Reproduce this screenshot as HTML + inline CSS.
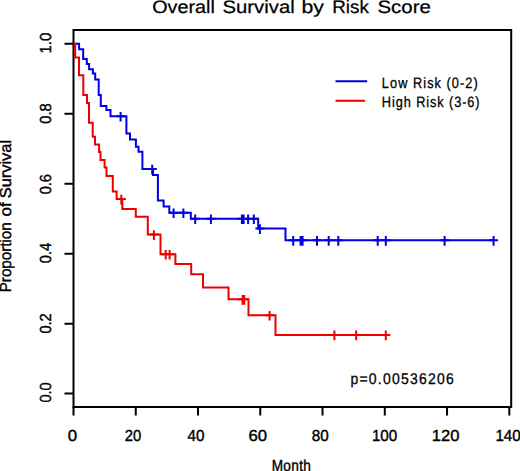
<!DOCTYPE html>
<html><head><meta charset="utf-8"><style>
html,body{margin:0;padding:0;background:#fff;width:520px;height:471px;overflow:hidden}
svg{display:block}
text{font-family:"Liberation Sans",sans-serif;fill:#000;stroke:#000;text-rendering:geometricPrecision}
</style></head><body>
<svg width="520" height="471" viewBox="0 0 520 471">
<rect width="520" height="471" fill="#fff"/>
<text transform="translate(152.18,13.3) scale(1.0,1)" font-size="18" stroke-width="0.25" textLength="62.63" lengthAdjust="spacingAndGlyphs">Overall</text><text transform="translate(222.50,13.3) scale(1.0,1)" font-size="18" stroke-width="0.25" textLength="72.25" lengthAdjust="spacingAndGlyphs">Survival</text><text transform="translate(301.46,13.3) scale(1.0,1)" font-size="18" stroke-width="0.25" textLength="22.49" lengthAdjust="spacingAndGlyphs">by</text><text transform="translate(332.16,13.3) scale(1.0,1)" font-size="18" stroke-width="0.25" textLength="36.66" lengthAdjust="spacingAndGlyphs">Risk</text><text transform="translate(377.49,13.3) scale(1.0,1)" font-size="18" stroke-width="0.25" textLength="53.35" lengthAdjust="spacingAndGlyphs">Score</text>
<path d="M73.5,30H511.2V407.1H73.5Z" fill="none" stroke="#000" stroke-width="2"/>
<path d="M73.50,407V415.5M135.76,407V415.5M198.01,407V415.5M260.27,407V415.5M322.53,407V415.5M384.79,407V415.5M447.04,407V415.5M509.30,407V415.5M64.5,393.60H73.5M64.5,323.65H73.5M64.5,253.70H73.5M64.5,183.75H73.5M64.5,113.80H73.5M64.5,43.85H73.5" fill="none" stroke="#000" stroke-width="2"/>
<text transform="translate(67.7,441.4) scale(1.05,1)" font-size="16" stroke-width="0.4">0</text><text transform="translate(124.81,441.4) scale(1.0,1)" font-size="16" stroke-width="0.4" textLength="16.45" lengthAdjust="spacingAndGlyphs">20</text><text transform="translate(187.50,441.4) scale(1.0,1)" font-size="16" stroke-width="0.4" textLength="16.92" lengthAdjust="spacingAndGlyphs">40</text><text transform="translate(248.44,441.4) scale(1.0,1)" font-size="16" stroke-width="0.4" textLength="18.59" lengthAdjust="spacingAndGlyphs">60</text><text transform="translate(311.72,441.4) scale(1.0,1)" font-size="16" stroke-width="0.4" textLength="16.90" lengthAdjust="spacingAndGlyphs">80</text><text transform="translate(371.91,441.4) scale(1.0,1)" font-size="16" stroke-width="0.4" textLength="25.35" lengthAdjust="spacingAndGlyphs">100</text><text transform="translate(431.86,441.4) scale(1.0,1)" font-size="16" stroke-width="0.4" textLength="27.58" lengthAdjust="spacingAndGlyphs">120</text><text transform="translate(495.41,441.4) scale(1.0,1)" font-size="16" stroke-width="0.4" textLength="25.35" lengthAdjust="spacingAndGlyphs">140</text>
<text transform="translate(51,402.45) rotate(-90) scale(1.0,1)" font-size="16" stroke-width="0.4" textLength="20.05" lengthAdjust="spacingAndGlyphs">0.0</text><text transform="translate(51,333.55) rotate(-90) scale(1.0,1)" font-size="16" stroke-width="0.4" textLength="20.30" lengthAdjust="spacingAndGlyphs">0.2</text><text transform="translate(51,263.15) rotate(-90) scale(1.0,1)" font-size="16" stroke-width="0.4" textLength="20.30" lengthAdjust="spacingAndGlyphs">0.4</text><text transform="translate(51,194.35) rotate(-90) scale(1.0,1)" font-size="16" stroke-width="0.4" textLength="20.30" lengthAdjust="spacingAndGlyphs">0.6</text><text transform="translate(51,123.65) rotate(-90) scale(1.0,1)" font-size="16" stroke-width="0.4" textLength="20.30" lengthAdjust="spacingAndGlyphs">0.8</text><text transform="translate(51,53.52) rotate(-90) scale(1.0,1)" font-size="16" stroke-width="0.4" textLength="20.80" lengthAdjust="spacingAndGlyphs">1.0</text>
<text transform="translate(271.63,470.8) scale(0.85,1)" font-size="16" stroke-width="0.4" textLength="46.13" lengthAdjust="spacing">Month</text>
<text transform="translate(11.4,292.24) rotate(-90) scale(1.0,1)" font-size="16" stroke-width="0.4" textLength="69.88" lengthAdjust="spacingAndGlyphs">Proportion</text><text transform="translate(11.4,216.57) rotate(-90) scale(1.0,1)" font-size="16" stroke-width="0.4" textLength="14.35" lengthAdjust="spacingAndGlyphs">of</text><text transform="translate(11.4,198.25) rotate(-90) scale(1.0,1)" font-size="16" stroke-width="0.4" textLength="58.30" lengthAdjust="spacingAndGlyphs">Survival</text>
<path d="M73.5,43.85H79.1V49.2H83.2V58.9H86.8V63.9H89.1V69.3H92.9V73.5H95.2V79.4H98.7V95.0H100.8V106.0H106.4V110.0H110.5V116.2H126.4V133.6H130.0V139.6H135.9V146.8H138.5V151.8H142.4V169.0H153.0V175.0H157.9V200.4H163.6V206.6H169.3V212.7H190.8V218.7H258.2V228.5H285.5V240.3H493.6" fill="none" stroke="#0000e6" stroke-width="2"/>
<path d="M116.1,116.2h9.0M120.6,111.9V121.60000000000001M147.7,169.0h9.0M152.2,164.7V174.4M169.1,212.7h9.0M173.6,208.39999999999998V218.1M178.9,212.7h9.0M183.4,208.39999999999998V218.1M190.7,218.7h9.0M195.2,214.39999999999998V224.1M206.4,218.7h9.0M210.9,214.39999999999998V224.1M237.4,218.7h9.0M241.9,214.39999999999998V224.1M239.1,218.7h9.0M243.6,214.39999999999998V224.1M243.6,218.7h9.0M248.1,214.39999999999998V224.1M249.3,218.7h9.0M253.8,214.39999999999998V224.1M255.39999999999998,228.5h9.0M259.9,224.2V233.9M288.7,240.3h9.0M293.2,236.0V245.70000000000002M296.1,240.3h9.0M300.6,236.0V245.70000000000002M298.1,240.3h9.0M302.6,236.0V245.70000000000002M312.5,240.3h9.0M317.0,236.0V245.70000000000002M324.2,240.3h9.0M328.7,236.0V245.70000000000002M333.8,240.3h9.0M338.3,236.0V245.70000000000002M373.2,240.3h9.0M377.7,236.0V245.70000000000002M381.3,240.3h9.0M385.8,236.0V245.70000000000002M440.1,240.3h9.0M444.6,236.0V245.70000000000002M489.1,240.3h9.0M493.6,236.0V245.70000000000002" fill="none" stroke="#0000e6" stroke-width="2"/>
<path d="M73.5,43.85H75.2V57.4H79.0V75.3H83.3V94.9H87.0V102.9H89.0V122.7H92.7V136.7H95.0V144.4H99.1V152.0H100.5V160.0H104.6V167.6H106.5V175.9H112.8V191.4H116.6V199.1H122.3V209.0H135.8V216.7H147.8V234.5H160.5V254.2H175.4V264.0H191.2V274.2H203.0V287.4H228.5V299.3H248.5V315.2H275.5V334.9H385.8" fill="none" stroke="#ee0000" stroke-width="2"/>
<path d="M116.8,199.1h9.0M121.3,194.79999999999998V204.5M149.4,234.5h9.0M153.9,230.2V239.9M161.2,254.2h9.0M165.7,249.89999999999998V259.59999999999997M165.1,254.2h9.0M169.6,249.89999999999998V259.59999999999997M238.1,299.3h9.0M242.6,295.0V304.7M239.7,299.3h9.0M244.2,295.0V304.7M265.1,315.2h9.0M269.6,310.9V320.59999999999997M329.9,334.9h9.0M334.4,330.59999999999997V340.29999999999995M351.7,334.9h9.0M356.2,330.59999999999997V340.29999999999995M381.3,334.9h9.0M385.8,330.59999999999997V340.29999999999995" fill="none" stroke="#ee0000" stroke-width="2"/>
<path d="M335.5,81.3H367.2" stroke="#0000e6" stroke-width="2"/>
<path d="M335.5,100.75H365.1" stroke="#ee0000" stroke-width="2"/>
<text transform="translate(381.86,87.8) scale(0.85,1)" font-size="15" stroke-width="0.3" textLength="112.74" lengthAdjust="spacing">Low Risk (0-2)</text>
<text transform="translate(381.85,107) scale(0.85,1)" font-size="15" stroke-width="0.3" textLength="115.00" lengthAdjust="spacing">High Risk (3-6)</text>
<text transform="translate(350.42,384) scale(0.9,1)" font-size="15.5" stroke-width="0.3" textLength="114.95" lengthAdjust="spacing">p=0.00536206</text>
</svg>
</body></html>
